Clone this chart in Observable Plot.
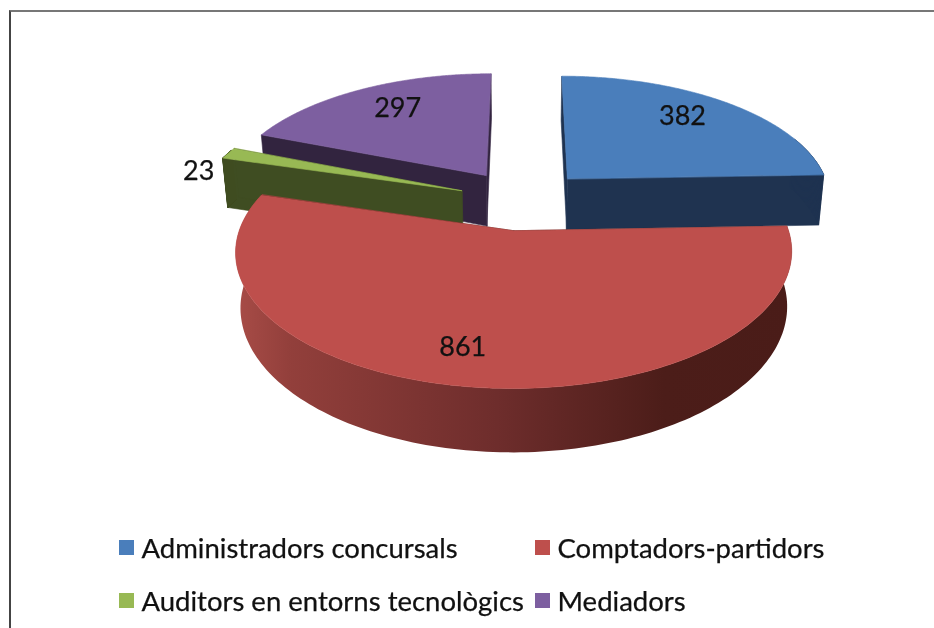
<!DOCTYPE html>
<html><head><meta charset="utf-8">
<script src="https://cdn.jsdelivr.net/npm/d3@7"></script>
<script src="https://cdn.jsdelivr.net/npm/@observablehq/plot@0.6"></script>
<style>
html,body{margin:0;padding:0;background:#fff;}
#page{position:relative;width:934px;height:628px;overflow:hidden;font-family:Lato,sans-serif;color:#111;filter:blur(0.55px);}
#frame{position:absolute;left:9px;top:10px;width:925px;height:618px;border-left:2px solid #444;border-top:2px solid #777;box-sizing:border-box;pointer-events:none;}
#chart svg{display:block;}
#legend{display:grid;grid-template-columns:416px auto;grid-auto-rows:53px;padding-left:119px;font-size:27.5px;line-height:53px;margin-top:1px;-webkit-text-stroke:0.25px #111;}
#legend div{display:flex;align-items:center;white-space:nowrap;}
#legend i{display:inline-block;width:15px;height:15px;margin-right:7.5px;}
</style></head><body>
<div id="page"><div id="frame"></div><div id="chart"></div><div id="legend"></div></div>
<script>
const categories = ["Administradors concursals","Comptadors-partidors","Auditors en entorns tecnològics","Mediadors"];
const values = [382,861,23,297];
const topColors = ["#4a7ebb","#be4f4c","#98b954","#7d5fa0"];
const wallColors = ["#1f3350","#4a1c18","#3f4d22","#32243f"];
// exploded offset of each slice in unit-pie coordinates (right, back)
const offsetX = [0.17,-0.035,-0.236,-0.145];
const offsetY = [0.18,-0.235,0.08,0.207];
const labelAngleShift = [-3,4.6,-10,2.4];
const labelRadius = [0.759,0.785,1.047,0.739];
const rimStops = [[0,"#a84c47"],[0.1,"#923f3b"],[0.47,"#6e2d2c"],[0.77,"#4c1d19"],[1,"#4a1c18"]];

const W = 934, H = 520, cx = 523, cy = 200, rx = 265, ry = 124, k = 0.15, depth = 0.42, shrink = 0.983;

const project = (X,Y,z) => { // z: 0 top face, 1 bottom face
  const w = 1 + k*Y, s = 1 - (1-shrink)*z;
  return {x: X/w*s, y: Y/w - z*depth/w};
};
const total = d3.sum(values);
const cum = d3.cumsum(values);
const slices = categories.map((c,i)=>({i,c,value:values[i],
  a0:(i?cum[i-1]:0)/total*2*Math.PI, a1:cum[i]/total*2*Math.PI}));
const rim = (s,a,z)=>project(offsetX[s.i]+Math.sin(a),offsetY[s.i]+Math.cos(a),z);
const apex = (s,z)=>project(offsetX[s.i],offsetY[s.i],z);
const arc = (s,z,n=160)=>d3.range(n+1).map(j=>rim(s,s.a0+(s.a1-s.a0)*j/n,z));

let pid=0;
const polysOf=(list)=>list.flatMap(([pts,fill])=>{const id=pid++;return pts.map(p=>({id,fill,x:p.x,y:p.y}));});

const wallsOf = s=>{
  const out=[];
  for(const a of [s.a0,s.a1]) out.push([[apex(s,0),rim(s,a,0),rim(s,a,1),apex(s,1)],wallColors[s.i]]);
  return out;
};
const rimOf = s=>{
  const n=160,out=[];
  for(let j=0;j<n;j++){
    const a=s.a0+(s.a1-s.a0)*j/n,b=s.a0+(s.a1-s.a0)*(j+1)/n;
    if(Math.cos((a+b)/2)>0.35) continue;
    out.push([[rim(s,a,0),rim(s,b,0),rim(s,b,1),rim(s,a,1)],wallColors[s.i]]);
  }
  return out;
};
const topOf = s=>[[[apex(s,0),...arc(s,0)],topColors[s.i]]];

const back = polysOf([3,2,0].flatMap(i=>[...wallsOf(slices[i]),...rimOf(slices[i]),...topOf(slices[i])]).concat(wallsOf(slices[1])));
const redRim = [...arc(slices[1],0),...arc(slices[1],1).reverse()];
const redTop = polysOf(topOf(slices[1]));

const labels = slices.map(s=>{
  const a=(s.a0+s.a1)/2+labelAngleShift[s.i]*Math.PI/180, r=labelRadius[s.i];
  const p=project(offsetX[s.i]+r*Math.sin(a),offsetY[s.i]+r*Math.cos(a),0);
  return {x:p.x,y:p.y,text:String(s.value)};
});

const gradient = () => {
  const g = d3.create("svg:linearGradient").attr("id","rimGrad");
  for(const [o,c] of rimStops) g.append("stop").attr("offset",o).attr("stop-color",c);
  const defs = d3.create("svg:defs"); defs.append(()=>g.node());
  return defs.node();
};
const polyMark = data => Plot.line(data,{x:"x",y:"y",z:"id",fill:"fill",stroke:"fill",strokeWidth:0.6,curve:"linear-closed"});

const plot = Plot.plot({
  width:W,height:H,margin:0,
  x:{domain:[-cx/rx,(W-cx)/rx],range:[0,W],axis:null},
  y:{domain:[(cy-H)/ry,cy/ry],range:[H,0],axis:null},
  marks:[
    gradient,
    polyMark(back),
    Plot.line(redRim,{x:"x",y:"y",fill:"url(#rimGrad)",stroke:"none",curve:"linear-closed"}),
    polyMark(redTop),
    Plot.text(labels,{x:"x",y:"y",text:"text",fontSize:27,fontFamily:"Lato, sans-serif",fill:"#111",stroke:"#111",strokeWidth:0.25})
  ]
});
document.getElementById("chart").append(plot);
const lg=document.getElementById("legend");
categories.forEach((c,i)=>{
  const d=document.createElement("div");
  const sw=document.createElement("i"); sw.style.background=topColors[i];
  d.append(sw,document.createTextNode(c)); lg.append(d);
});
</script></body></html>
